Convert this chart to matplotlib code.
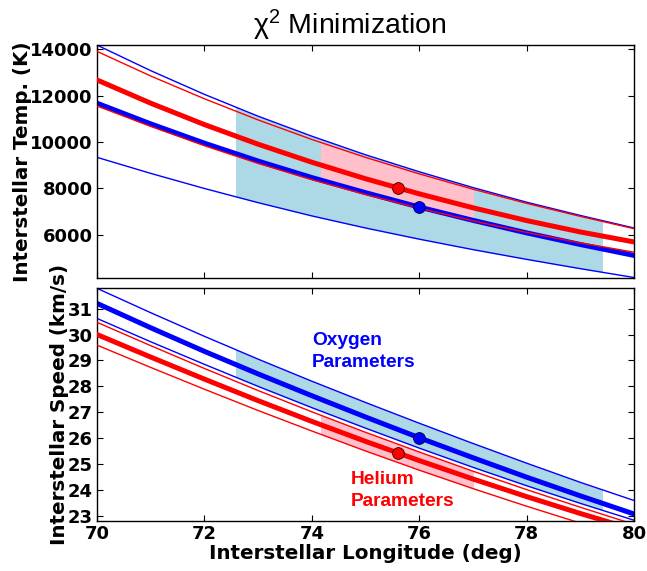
import numpy as np
import matplotlib
matplotlib.use("Agg")
import matplotlib.pyplot as plt
from matplotlib.patches import Rectangle

# longitude grid (deg)
lon = [70, 71, 72, 73, 74, 75, 76, 77, 78, 79, 80]

# temperature (K): oxygen (blue) and helium (red) best fit + bounds
temp_o_hi = [14170, 13070, 12050, 11110, 10250, 9450, 8720, 8040, 7410, 6840, 6300]
temp_o    = [11670, 10780, 9950, 9180, 8470, 7820, 7200, 6630, 6090, 5590, 5120]
temp_o_lo = [9340, 8650, 8000, 7390, 6820, 6300, 5820, 5370, 4950, 4550, 4170]
temp_he_hi = [13900, 12840, 11860, 10950, 10110, 9340, 8630, 7970, 7360, 6800, 6270]
temp_he    = [12670, 11670, 10750, 9905, 9130, 8420, 7770, 7170, 6620, 6130, 5700]
temp_he_lo = [11550, 10670, 9840, 9080, 8380, 7740, 7150, 6610, 6110, 5660, 5260]

# speed (km/s)
v_o_hi = [31.78, 30.84, 29.93, 29.05, 28.20, 27.38, 26.58, 25.80, 25.04, 24.30, 23.60]
v_o    = [31.20, 30.26, 29.35, 28.48, 27.64, 26.82, 26.02, 25.25, 24.50, 23.78, 23.08]
v_o_lo = [30.62, 29.72, 28.85, 28.00, 27.18, 26.39, 25.62, 24.88, 24.17, 23.49, 22.84]
v_he_hi = [30.47, 29.57, 28.69, 27.84, 27.02, 26.23, 25.47, 24.73, 24.02, 23.34, 22.68]
v_he    = [30.00, 29.13, 28.28, 27.45, 26.65, 25.88, 25.14, 24.43, 23.75, 23.10, 22.48]
v_he_lo = [29.59, 28.73, 27.89, 27.07, 26.28, 25.51, 24.77, 24.06, 23.38, 22.73, 22.10]

# best fit points (lon, temp, speed)
best_o = (76.0, 7200, 26.02)
best_he = (75.6, 8000, 25.45)

# longitude ranges of the shaded regions
o_range = (72.58, 79.4)
he_range = (74.17, 77.0)

plt.rcParams['font.family'] = 'DejaVu Sans'
plt.rcParams['font.weight'] = 'bold'
plt.rcParams['mathtext.fontset'] = 'custom'
plt.rcParams['mathtext.rm'] = 'Liberation Sans:weight=normal'
plt.rcParams['mathtext.it'] = 'Liberation Sans:style=italic:weight=normal'
plt.rcParams['mathtext.bf'] = 'Liberation Sans:weight=normal'

fig = plt.figure(figsize=(6.47, 5.71), dpi=100)
ax1 = fig.add_axes([0.150, 0.514, 0.830, 0.407])
ax2 = fig.add_axes([0.150, 0.088, 0.830, 0.407], sharex=ax1)


def shade(ax, lo, hi, xr, color):
    poly = ax.fill_between(lon, lo, hi, color=color, lw=0, zorder=1)
    clip = Rectangle((xr[0], -1e6), xr[1] - xr[0], 2e6, transform=ax.transData)
    poly.set_clip_path(clip)


def panel(ax, o_hi, o, o_lo, he_hi, he, he_lo, yo, yhe):
    shade(ax, o_lo, o_hi, o_range, '#add8e6')
    shade(ax, he_lo, he_hi, he_range, '#ffc0cb')
    for y in (o_hi, o_lo):
        ax.plot(lon, y, color='#0000ff', lw=1.0, zorder=2)
    ax.plot(lon, o, color='#0000ff', lw=3.6, zorder=2)
    for y in (he_hi, he_lo):
        ax.plot(lon, y, color='#ff0000', lw=1.0, zorder=3)
    ax.plot(lon, he, color='#ff0000', lw=3.6, zorder=3)
    ax.plot(best_o[0], yo, 'o', color='#0000ff', mec='#000033', mew=0.6, ms=8.5, zorder=4)
    ax.plot(best_he[0], yhe, 'o', color='#ff0000', mec='#330000', mew=0.6, ms=8.5, zorder=4)
    ax.tick_params(direction='in', top=True, right=True, length=4.5, width=0.8,
                   labelsize=13, pad=3)
    for s in ax.spines.values():
        s.set_linewidth(1.0)


panel(ax1, temp_o_hi, temp_o, temp_o_lo, temp_he_hi, temp_he, temp_he_lo,
      best_o[1], best_he[1])
panel(ax2, v_o_hi, v_o, v_o_lo, v_he_hi, v_he, v_he_lo, best_o[2], best_he[2])

ax1.set_xlim(70, 80)
ax1.set_ylim(4170, 14170)
ax1.set_yticks([6000, 8000, 10000, 12000, 14000])
ax1.tick_params(labelbottom=False)
ax2.set_ylim(22.82, 31.78)
ax2.set_yticks(range(23, 32))
ax2.set_xticks(range(70, 81, 2))

ax1.set_ylabel('Interstellar Temp. (K)', fontsize=14.3, fontweight='bold', labelpad=-1)
ax2.set_ylabel('Interstellar Speed (km/s)', fontsize=14.3, fontweight='bold', labelpad=-1)
ax2.set_xlabel('Interstellar Longitude (deg)', fontsize=14.3, fontweight='bold', labelpad=1)

lab = ['Liberation Sans', 'DejaVu Sans']
ax2.text(74.0, 30.1, 'Oxygen\nParameters', color='#0000ff', fontsize=13.8,
         fontweight='bold', family=lab, ha='left', va='top', linespacing=1.42)
ax2.text(74.73, 24.74, 'Helium\nParameters', color='#ff0000', fontsize=13.8,
         fontweight='bold', family=lab, ha='left', va='top', linespacing=1.42)

fig.text(0.540, 0.94, r'χ$^{2}$ Minimization', fontsize=20.5, fontweight='normal',
         family=lab, ha='center', va='baseline')

fig.savefig('out.png', dpi=100)
